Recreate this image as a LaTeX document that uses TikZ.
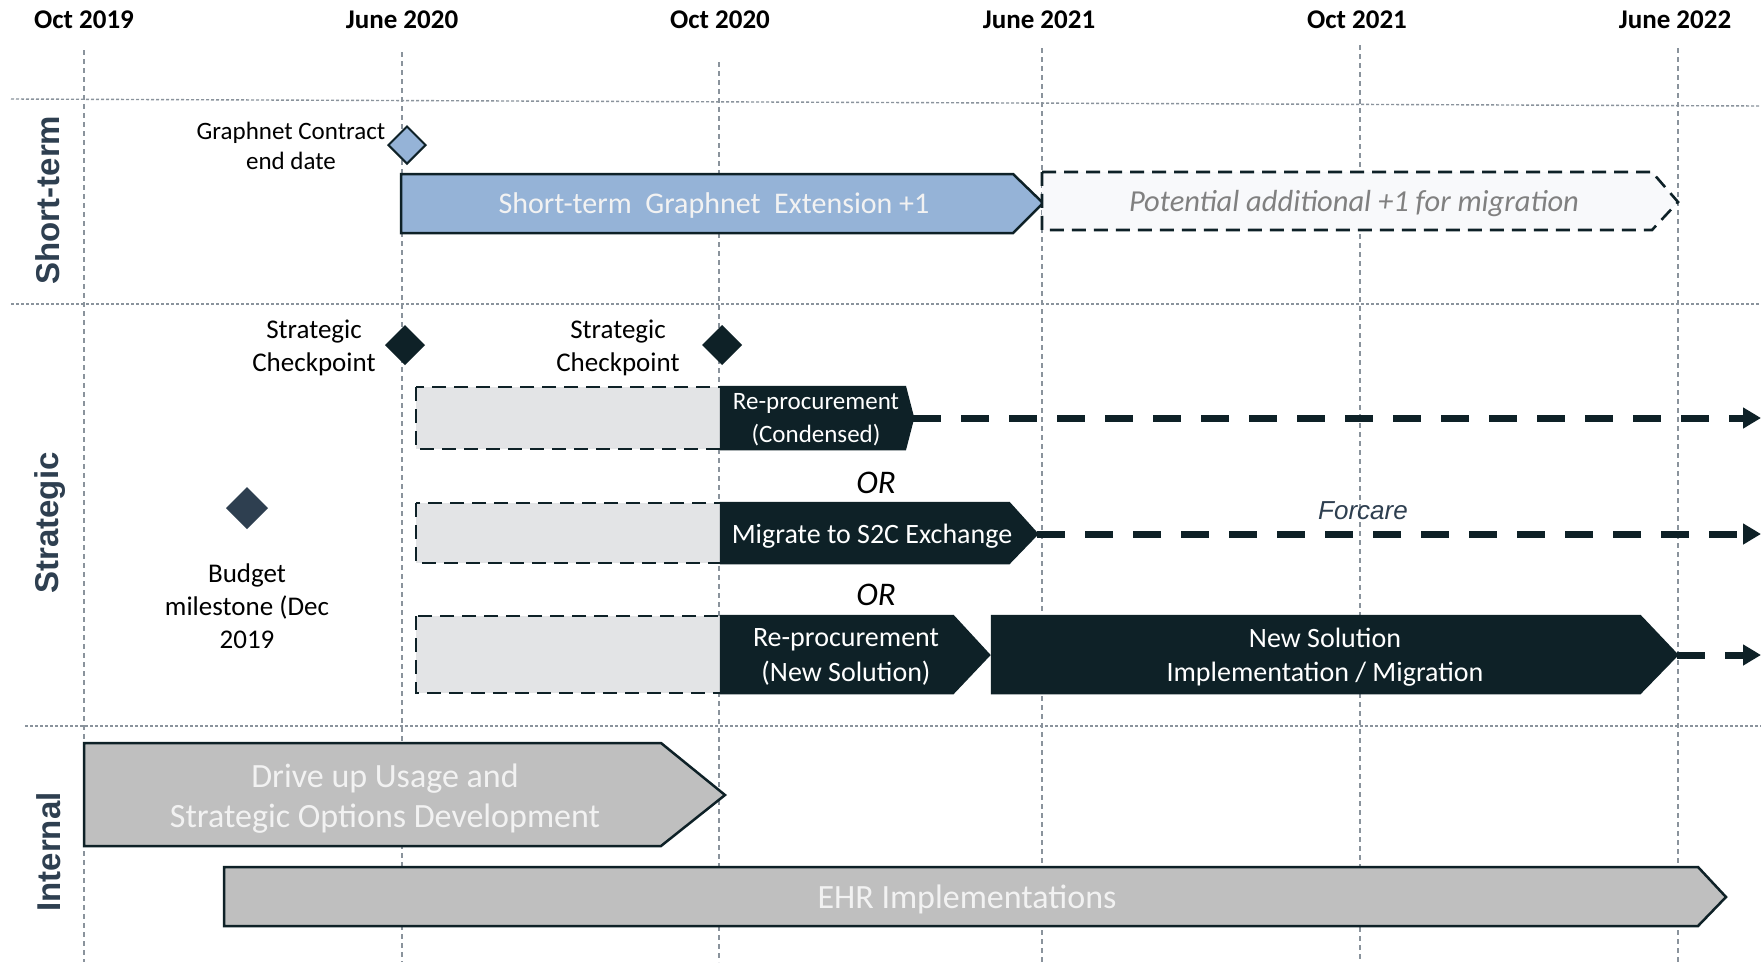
\documentclass[tikz,border=0pt]{standalone}
\usepackage{fontspec}
\setmainfont{Carlito}
\newfontfamily\arialfont{Liberation Sans}
\usetikzlibrary{arrows.meta,shapes.geometric}
\definecolor{darkink}{HTML}{0E2127}
\definecolor{slate}{HTML}{2E3F50}
\definecolor{bluebar}{HTML}{95B3D7}
\definecolor{lightbox}{HTML}{F8F9FB}
\definecolor{grayopt}{HTML}{E3E4E6}
\definecolor{grayarrow}{HTML}{BFBFBF}
\definecolor{gridcol}{HTML}{8A939C}
\definecolor{potgray}{HTML}{808080}
\begin{document}
\begin{tikzpicture}[x=1pt,y=-1pt,
  gridv/.style={draw=gridcol, line width=1.1pt, dash pattern=on 5pt off 4pt},
  gridh/.style={draw=gridcol, line width=1.4pt, dash pattern=on 3pt off 2pt},
  header/.style={font={\fontsize{27}{32}\selectfont\bfseries}, text=black, inner sep=0pt},
  rowlabel/.style={rotate=90, font={\arialfont\fontsize{33}{40}\selectfont\bfseries}, text=slate, inner sep=0pt},
  bar/.style={line width=2.5pt, draw=darkink, line join=miter},
  dashbox/.style={line width=2.6pt, draw=darkink, dash pattern=on 14pt off 8pt},
  milestone/.style={diamond, inner sep=0pt, minimum width=38pt, minimum height=38pt, line width=2pt},
  lbl/.style={align=center, text=black, inner sep=0pt},
  bigdash/.style={draw=darkink, line width=7pt, dash pattern=on 28pt off 20pt, -{Triangle[length=18pt,width=20pt]}},
  ortext/.style={font={\fontsize{33}{40}\selectfont\itshape}, text=black, inner sep=0pt}
]
\useasboundingbox (0,0) rectangle (1761,962);
\fill[white] (0,0) rectangle (1761,962);

% grid
\draw[gridv] (84,50) -- (84,962);
\draw[gridv] (402,52) -- (402,962);
\draw[gridv] (719,62) -- (719,962);
\draw[gridv] (1042,48) -- (1042,962);
\draw[gridv] (1360,45) -- (1360,962);
\draw[gridv] (1678,48) -- (1678,962);
\draw[gridh] (11,99) -- (1761,106);
\draw[gridh] (11,304) -- (1761,304);
\draw[gridh] (25,726) -- (1761,726);

% headers
\node[header] (h1) at (84,20) {Oct 2019};
\node[header] (h2) at (402,20) {June 2020};
\node[header] (h3) at (720,20) {Oct 2020};
\node[header] (h4) at (1039,20) {June 2021};
\node[header] (h5) at (1357,20) {Oct 2021};
\node[header] (h6) at (1675,20) {June 2022};

% row labels
\node[rowlabel] (rs) at (48,200) {Short-term};
\node[rowlabel] (rst) at (50,523) {Strategic};
\node[rowlabel] (ri) at (49,852) {Internal};

% short-term
\node[milestone, fill=bluebar, draw=darkink] (gcd) at (407,145) {};
\node[lbl, font={\fontsize{25}{30}\selectfont}] (gcdl) at (291,146) {Graphnet Contract\\end date};
\path[bar, fill=bluebar] (401,174) -- (1013,174) -- (1043,203) -- (1013,233) -- (401,233) -- cycle;
\node[text=white!95!black, font={\fontsize{30}{36}\selectfont}, inner sep=0pt] (ext) at (714,205) {Short-term\ \ Graphnet\ \ Extension +1};
\path[dashbox, fill=lightbox] (1042,172) -- (1652,172) -- (1678,202) -- (1652,230) -- (1042,230) -- cycle;
\node[text=potgray, font={\fontsize{30.5}{36}\selectfont\itshape}, inner sep=0pt] (pot) at (1354,204) {Potential additional +1 for migration};

% strategic milestones
\node[milestone, fill=darkink, draw=darkink] (sc1) at (405,345) {};
\node[milestone, fill=darkink, draw=darkink] (sc2) at (722,345) {};
\node[lbl, font={\fontsize{27}{33}\selectfont}] (sc1l) at (314,348) {Strategic\\Checkpoint};
\node[lbl, font={\fontsize{27}{33}\selectfont}] (sc2l) at (618,348) {Strategic\\Checkpoint};
\node[milestone, fill=slate, draw=slate, minimum width=40pt, minimum height=40pt] (bm) at (247,508) {};
\node[lbl, font={\fontsize{27}{33}\selectfont}] (bml) at (247,606) {Budget\\milestone (Dec\\2019};

% gray option boxes
\path[dashbox, fill=grayopt] (416,387) rectangle (721,449);
\path[dashbox, fill=grayopt] (416,503) rectangle (721,563);
\path[dashbox, fill=grayopt] (416,616) rectangle (721,693);

% option 1
\path[bar, fill=darkink] (721,387) -- (905,387) -- (913,418) -- (905,449) -- (721,449) -- cycle;
\node[lbl, text=white, font={\fontsize{25}{33}\selectfont}] (rpc) at (816,420) {Re-procurement\\(Condensed)};
\coordinate (rpctip) at (913,418);
\coordinate (rpcend) at (1761,418);
\draw[bigdash] (rpctip) -- (rpcend);

\node[ortext] (or1) at (876,483) {OR};

% option 2
\path[bar, fill=darkink] (721,503) -- (1009,503) -- (1037,534) -- (1009,563) -- (721,563) -- cycle;
\node[text=white, font={\fontsize{28}{34}\selectfont}, inner sep=0pt] (s2c) at (872,536) {Migrate to S2C Exchange};
\coordinate (s2ctip) at (1037,534);
\coordinate (s2cend) at (1761,534);
\draw[bigdash] (s2ctip) -- (s2cend);
\node[text=slate, font={\arialfont\fontsize{26}{31}\selectfont\itshape}, inner sep=0pt] (forc) at (1363,511) {Forcare};

\node[ortext] (or2) at (876,595) {OR};

% option 3
\path[bar, fill=darkink] (721,616) -- (953,616) -- (989,655) -- (953,693) -- (721,693) -- cycle;
\node[lbl, text=white, font={\fontsize{28}{35}\selectfont}] (rpn) at (846,657) {Re-procurement\\(New Solution)};
\path[bar, fill=darkink] (992,616) -- (1640,616) -- (1677,655) -- (1640,693) -- (992,693) -- cycle;
\node[lbl, text=white, font={\fontsize{28}{34}\selectfont}] (nsi) at (1325,657) {New Solution\\Implementation / Migration};
\coordinate (nsitip) at (1677,655);
\coordinate (nsiend) at (1761,655);
\draw[bigdash] (nsitip) -- (nsiend);

% internal
\path[bar, fill=grayarrow] (84,743) -- (661,743) -- (725,795) -- (661,846) -- (84,846) -- cycle;
\node[lbl, text=white!95!black, font={\fontsize{34}{40}\selectfont}] (drv) at (385,799) {Drive up Usage and\\Strategic Options Development};
\path[bar, fill=grayarrow] (224,867) -- (1698,867) -- (1726,897) -- (1698,926) -- (224,926) -- cycle;
\node[text=white!95!black, font={\fontsize{34}{40}\selectfont}, inner sep=0pt] (ehr) at (967,899) {EHR Implementations};
\end{tikzpicture}
\end{document}
